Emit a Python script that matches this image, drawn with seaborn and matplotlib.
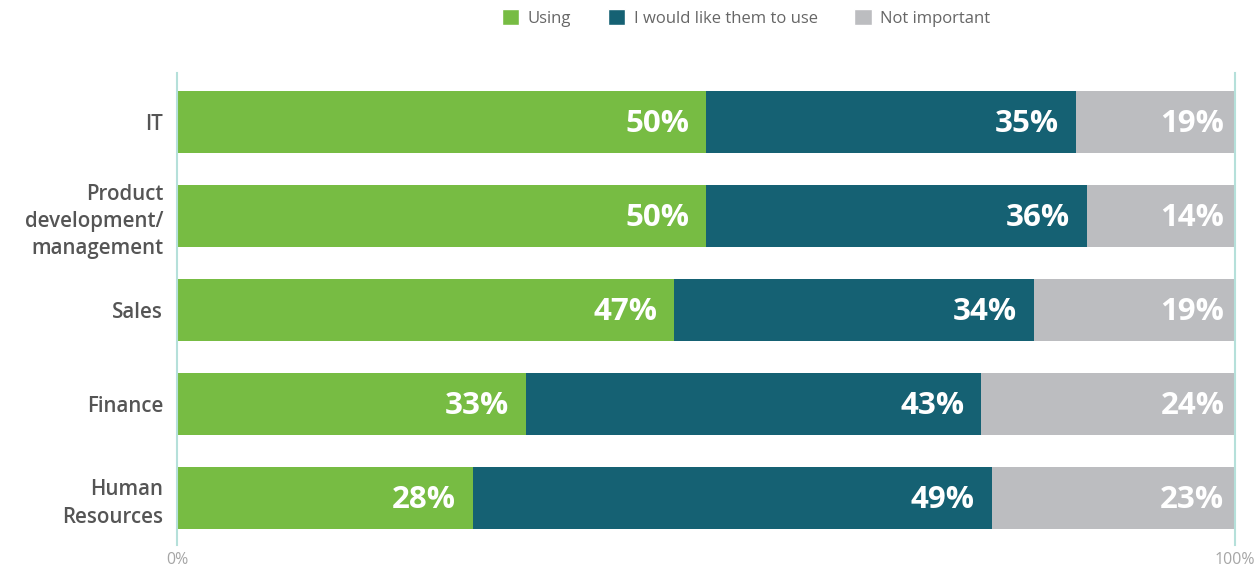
import seaborn as sns
import matplotlib.pyplot as plt
import pandas as pd
from matplotlib.patches import Patch

categories = ["IT", "Product\ndevelopment/\nmanagement", "Sales", "Finance", "Human\nResources"]
using = [50, 50, 47, 33, 28]
would_like = [35, 36, 34, 43, 49]
not_important = [19, 14, 19, 24, 23]

series_names = ["Using", "I would like them to use", "Not important"]
colors = ["#77bc43", "#156173", "#bcbdc0"]

sns.set_style("white")
plt.rcParams['font.family'] = ['Open Sans', 'DejaVu Sans']

df = pd.DataFrame({"cat": categories, "using": using,
                   "would_like": would_like, "not_important": not_important})
df["c1"] = df["using"]
df["c2"] = df["using"] + df["would_like"]
df["c3"] = df["c2"] + df["not_important"]

fig = plt.figure(figsize=(12.55, 5.69), dpi=100)
ax = fig.add_axes([177 / 1255, 1 - 545 / 569, (1235 - 177) / 1255, (545 - 73) / 569])

# stacked look: draw cumulative totals back to front
for col, color in zip(["c3", "c2", "c1"], colors[::-1]):
    sns.barplot(data=df, y="cat", x=col, color=color, orient="h",
                width=0.66, saturation=1, ax=ax, linewidth=0)

ax.set_xlim(0, 100)
ax.set_ylim(4.5, -0.52)

for i in range(len(categories)):
    ends = [df["c1"][i], df["c2"][i], min(df["c3"][i], 100)]
    vals = [using[i], would_like[i], not_important[i]]
    for end, v in zip(ends, vals):
        ax.text(end - 1.6 if end < 100 else end - 1.0, i + 0.02, f"{v}%", ha="right", va="center",
                color="white", fontsize=22.5, fontweight="bold")

ax.set_xlabel("")
ax.set_ylabel("")
ax.set_xticks([0, 100])
ax.set_xticklabels(["0%", "100%"], color="#a6a6a6", fontsize=11.5)
ax.tick_params(axis="x", length=0, pad=5)
ax.tick_params(axis="y", length=0, pad=10)
for lbl in ax.get_yticklabels():
    lbl.set_fontsize(14.8)
    lbl.set_fontweight("semibold")
    lbl.set_color("#555555")
    lbl.set_linespacing(1.38)

for side in ["top", "bottom"]:
    ax.spines[side].set_visible(False)
for side in ["left", "right"]:
    ax.spines[side].set_color("#b5e0da")
    ax.spines[side].set_linewidth(1.5)

handles = [Patch(facecolor=c, label=n) for c, n in zip(colors, series_names)]
fig.legend(handles=handles, loc="center", bbox_to_anchor=(746 / 1255, 1 - 18 / 569),
           ncol=3, frameon=False, fontsize=12, handlelength=1.05, handleheight=1.05,
           columnspacing=2.2, handletextpad=0.5, labelcolor="#666666")

fig.savefig("out.png", dpi=100)
